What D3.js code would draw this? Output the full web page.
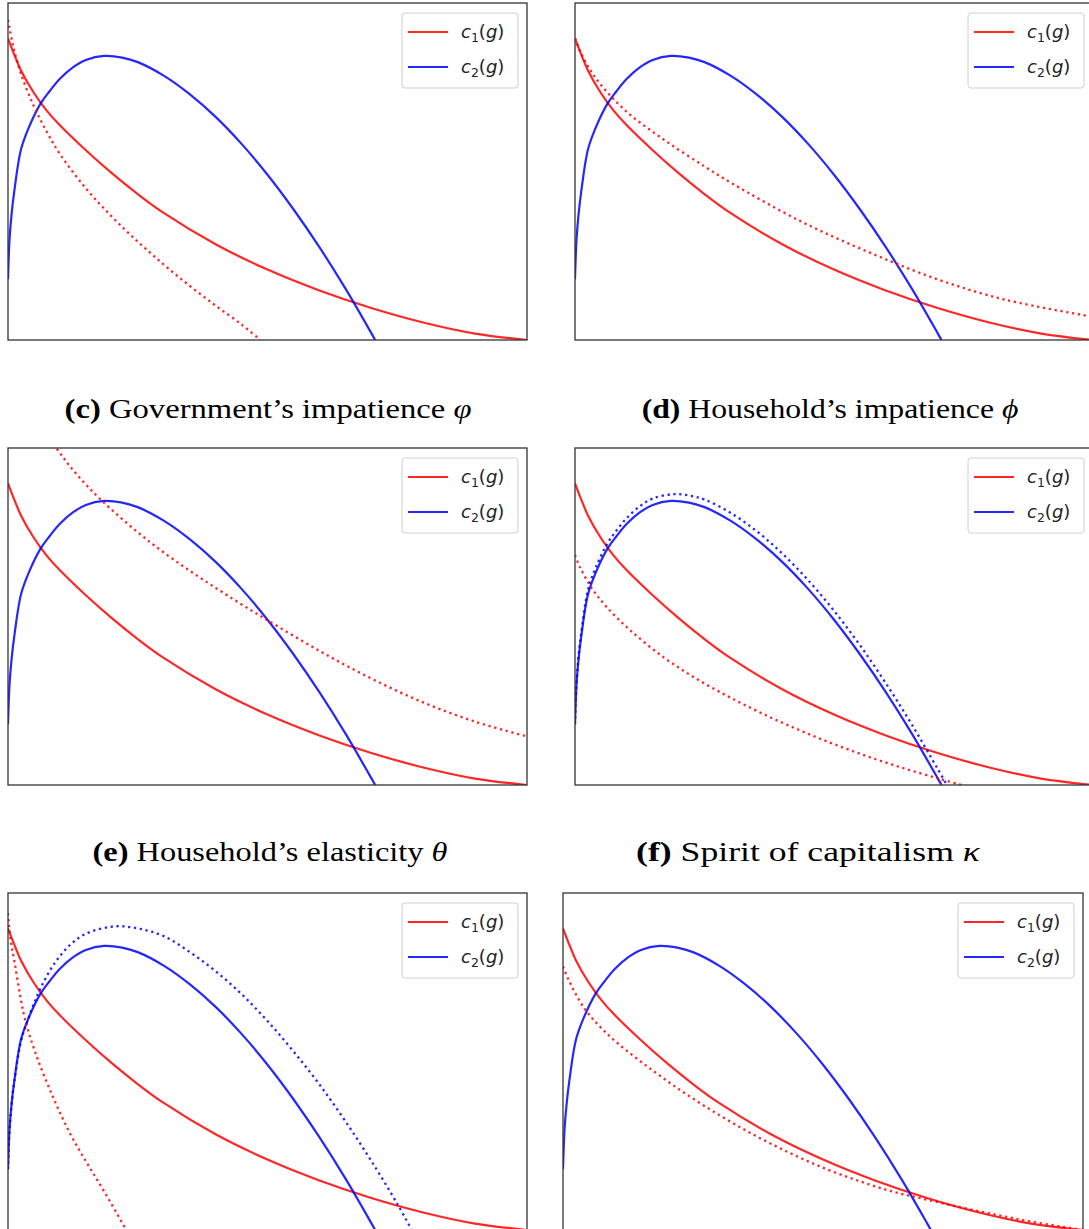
<!DOCTYPE html>
<meta charset="utf-8">
<style>
body { margin: 0; background: #fff; }
text { font-family: "DejaVu Sans", sans-serif; }
.frame { fill: none; stroke: #333; stroke-width: 1.3; }
.curve { fill: none; stroke-width: 2.2; stroke-opacity: 0.85; }
.dotted { stroke-width: 2.3; stroke-dasharray: 2.3,3.6; }
.legend-box { fill: #fff; fill-opacity: 0.8; stroke: #d0d0d0; stroke-width: 1; }
.caption { font-family: "Liberation Serif", serif; font-size: 28px; fill: #000; }
</style>
<body>
<script src="https://cdn.jsdelivr.net/npm/d3@7"></script>
<script>

// values, as a share of each axis (x: g, y: c)
// baseline c1(g), the same in every panel
var gC1 = [0, 0.01, 0.025, 0.05, 0.075, 0.1, 0.15, 0.2, 0.25, 0.3, 0.4, 0.5, 0.6, 0.7, 0.8, 0.9, 1.0];
var c1Base = [0.895, 0.855, 0.8, 0.733, 0.68, 0.637, 0.563, 0.495, 0.433, 0.377, 0.284, 0.209, 0.147, 0.095, 0.052, 0.019, 0];

// baseline c2(g)
var gC2 = [0, 0.003, 0.007, 0.012, 0.025, 0.04, 0.063, 0.08, 0.1, 0.125, 0.15, 0.185, 0.22, 0.25, 0.3, 0.35, 0.4, 0.45, 0.5, 0.55, 0.6, 0.65, 0.7, 0.7075];
var c2Base = [0.18, 0.3, 0.375, 0.44, 0.565, 0.63, 0.702, 0.738, 0.775, 0.809, 0.831, 0.843, 0.838, 0.8245, 0.7845, 0.7295, 0.662, 0.582, 0.4905, 0.388, 0.2755, 0.153, 0.0205, 0];

// (c) government's impatience: dotted c1
var gVarphi = [0, 0.01, 0.025, 0.05, 0.075, 0.1, 0.15, 0.2, 0.25, 0.3, 0.35, 0.4, 0.45, 0.486];
var c1Varphi = [0.95, 0.872, 0.79, 0.693, 0.617, 0.552, 0.45, 0.366, 0.292, 0.224, 0.161, 0.102, 0.046, 0];

// (d) household's impatience: dotted c1
var gPhi = [0, 0.01, 0.025, 0.05, 0.1, 0.172, 0.25, 0.304, 0.436, 0.568, 0.7, 0.832, 1.0];
var c1Phi = [0.895, 0.857, 0.812, 0.757, 0.677, 0.594, 0.515, 0.464, 0.352, 0.26, 0.18, 0.119, 0.069];

// (e) household's elasticity: dotted c1
var gTheta = [0.05, 0.093, 0.13, 0.18, 0.25, 0.3, 0.35, 0.4, 0.45, 0.5, 0.6, 0.7, 0.8, 0.9, 1.0];
var c1Theta = [1.1, 1.0, 0.926, 0.845, 0.75, 0.69, 0.636, 0.585, 0.536, 0.489, 0.398, 0.316, 0.245, 0.188, 0.144];

// (f) spirit of capitalism: dotted c1 and c2
var gKappa1 = [0, 0.01, 0.033, 0.06, 0.106, 0.172, 0.238, 0.304, 0.37, 0.436, 0.502, 0.568, 0.634, 0.70, 0.746];
var c1Kappa = [0.682, 0.645, 0.583, 0.53, 0.46, 0.378, 0.312, 0.256, 0.206, 0.161, 0.12, 0.083, 0.05, 0.02, 0];
var gKappa2 = [0, 0.003, 0.007, 0.012, 0.025, 0.04, 0.063, 0.08, 0.1, 0.125, 0.15, 0.19, 0.22, 0.25, 0.3, 0.35, 0.4, 0.45, 0.5, 0.55, 0.6, 0.65, 0.7, 0.718];
var c2Kappa = [0.18, 0.305, 0.385, 0.45, 0.578, 0.645, 0.718, 0.755, 0.792, 0.827, 0.85, 0.863, 0.859, 0.847, 0.808, 0.754, 0.687, 0.608, 0.517, 0.415, 0.302, 0.18, 0.048, 0];

// (g) third row, left: dotted c1 and c2
var gRowG1 = [0, 0.005, 0.013, 0.023, 0.033, 0.053, 0.086, 0.119, 0.152, 0.185, 0.228];
var c1RowG = [0.94, 0.86, 0.792, 0.70, 0.624, 0.525, 0.397, 0.288, 0.199, 0.115, 0];
var gRowG2 = [0, 0.003, 0.007, 0.012, 0.025, 0.036, 0.05, 0.066, 0.09, 0.119, 0.15, 0.205, 0.25, 0.3, 0.35, 0.4, 0.45, 0.5, 0.55, 0.6, 0.65, 0.7, 0.75, 0.778];
var c2RowG = [0.18, 0.3, 0.375, 0.44, 0.56, 0.614, 0.672, 0.728, 0.792, 0.845, 0.879, 0.901, 0.895, 0.872, 0.825, 0.768, 0.70, 0.62, 0.53, 0.432, 0.323, 0.205, 0.078, 0];

// (h) third row, right: dotted c1
var gRowH = [0, 0.01, 0.04, 0.07, 0.106, 0.172, 0.238, 0.305, 0.371, 0.437, 0.503, 0.57, 0.636, 0.7, 0.768, 0.834, 0.9, 1.0];
var c1RowH = [0.782, 0.745, 0.66, 0.605, 0.553, 0.474, 0.402, 0.337, 0.279, 0.228, 0.183, 0.145, 0.113, 0.09, 0.066, 0.045, 0.025, 0];

var captionLabels = ["(c)", "(d)", "(e)", "(f)"];
var captionTexts = [" Government\u2019s impatience ", " Household\u2019s impatience ", " Household\u2019s elasticity ", " Spirit of capitalism "];
var captionSymbols = ["\u03c6", "\u03d5", "\u03b8", "\u03ba"];

var red = "#ff0000", blue = "#0000ff";

function zip(g, c) { return g.map(function(d, i) { return [d, c[i]]; }); }

var panels = [
  {x: 8,   y: 3,   w: 519, h: 337, extra: [[gVarphi, c1Varphi, red]]},
  {x: 575, y: 3,   w: 518, h: 337, extra: [[gPhi, c1Phi, red]]},
  {x: 8,   y: 448, w: 519, h: 337, extra: [[gTheta, c1Theta, red]]},
  {x: 575, y: 448, w: 518, h: 337, extra: [[gKappa1, c1Kappa, red], [gKappa2, c2Kappa, blue]]},
  {x: 8,   y: 893, w: 519, h: 337, extra: [[gRowG1, c1RowG, red], [gRowG2, c2RowG, blue]]},
  {x: 563, y: 893, w: 520, h: 337, extra: [[gRowH, c1RowH, red]]}
];

var svg = d3.select("body").append("svg")
    .attr("width", 1089)
    .attr("height", 1229);

panels.forEach(function(p, i) {
  var x = d3.scaleLinear().domain([0, 1]).range([p.x, p.x + p.w]);
  var y = d3.scaleLinear().domain([0, 1]).range([p.y + p.h, p.y]);
  var line = d3.line()
      .x(function(d) { return x(d[0]); })
      .y(function(d) { return y(d[1]); })
      .curve(d3.curveCatmullRom.alpha(0.5));

  svg.append("clipPath").attr("id", "clip" + i)
    .append("rect")
      .attr("x", p.x).attr("y", p.y)
      .attr("width", p.w).attr("height", p.h);

  var g = svg.append("g").attr("clip-path", "url(#clip" + i + ")");

  g.append("path").attr("class", "curve")
      .attr("stroke", red)
      .attr("d", line(zip(gC1, c1Base)));
  g.append("path").attr("class", "curve")
      .attr("stroke", blue)
      .attr("d", line(zip(gC2, c2Base)));

  p.extra.forEach(function(s) {
    g.append("path").attr("class", "curve dotted")
        .attr("stroke", s[2])
        .attr("d", line(zip(s[0], s[1])));
  });

  svg.append("rect").attr("class", "frame")
      .attr("x", p.x).attr("y", p.y)
      .attr("width", p.w).attr("height", p.h);

  // legend
  var lx = p.x + p.w - 125, ly = p.y + 10;
  var leg = svg.append("g").attr("transform", "translate(" + lx + "," + ly + ")");
  leg.append("rect").attr("class", "legend-box")
      .attr("width", 116).attr("height", 75).attr("rx", 3);
  [["1", red], ["2", blue]].forEach(function(e, k) {
    var yy = 19 + k * 35;
    leg.append("line")
        .attr("x1", 6).attr("x2", 46)
        .attr("y1", yy).attr("y2", yy)
        .attr("stroke", e[1]).attr("stroke-width", 2.2).attr("stroke-opacity", 0.85);
    var t = leg.append("text").attr("x", 59).attr("y", yy + 6)
        .attr("font-size", 18).attr("fill", "#222");
    t.append("tspan").attr("font-style", "italic").text("c");
    t.append("tspan").attr("font-size", 12.5).attr("dy", 4).text(e[0]);
    t.append("tspan").attr("dy", -4).text("(");
    t.append("tspan").attr("font-style", "italic").text("g");
    t.append("tspan").text(")");
  });
});

// captions under the first two rows
var capPos = [[268, 418, 407], [830, 418, 377], [270, 861, 355], [808, 861, 344]];
captionLabels.forEach(function(lab, i) {
  var t = svg.append("text").attr("class", "caption")
      .attr("text-anchor", "middle");
  t.append("tspan").attr("font-weight", "bold").text(lab);
  t.append("tspan").text(captionTexts[i]);
  t.append("tspan").attr("font-style", "italic").text(captionSymbols[i]);
  var len = t.node().getComputedTextLength();
  t.attr("transform", "translate(" + capPos[i][0] + "," + capPos[i][1] + ") scale(" + (capPos[i][2] / len) + ",1)");
});

</script>
</body>
